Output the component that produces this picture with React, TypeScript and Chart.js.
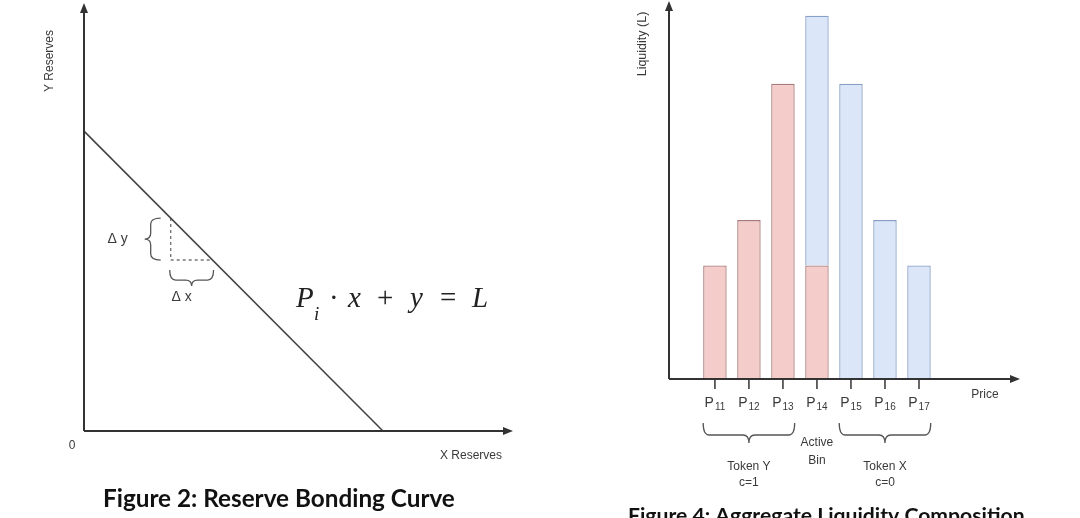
import React, { useEffect, useRef } from "react";
import { Chart, registerables } from "chart.js";

Chart.register(...registerables);

// ---------- Figure 2 data ----------
const reserveX = [0, 10];
const reserveY = [10, 0];
const deltaX = [2.9, 2.9, 4.3];
const deltaY = [7.1, 5.7, 5.7];

// ---------- Figure 4 data ----------
const bins = [11, 12, 13, 14, 15, 16, 17];
const tickLabels = ["P11", "P12", "P13", "P14", "P15", "P16", "P17"];
const tokenYValues = [5, 7, 13, 5, null, null, null];
const tokenXValues = [null, null, null, 11, 13, 7, 5];

const AXIS = "#333333";
const TEXT = "#3a3a3a";
const SANS = "'Liberation Sans', Arial, sans-serif";

function arrowHead(ctx: CanvasRenderingContext2D, x: number, y: number, dir: "up" | "right") {
  ctx.beginPath();
  if (dir === "up") {
    ctx.moveTo(x, y);
    ctx.lineTo(x - 4, y + 10);
    ctx.lineTo(x + 4, y + 10);
  } else {
    ctx.moveTo(x, y);
    ctx.lineTo(x - 10, y - 4);
    ctx.lineTo(x - 10, y + 4);
  }
  ctx.closePath();
  ctx.fill();
}

// horizontal brace, tips at y, pointing down
function hBrace(ctx: CanvasRenderingContext2D, x1: number, x2: number, y: number, arm: number, tip: number) {
  const m = (x1 + x2) / 2;
  const r = Math.min(arm, 6);
  const yb = y + arm;
  ctx.beginPath();
  ctx.moveTo(x1, y);
  ctx.quadraticCurveTo(x1, yb, x1 + r, yb);
  ctx.lineTo(m - r, yb);
  ctx.quadraticCurveTo(m, yb, m, yb + tip);
  ctx.moveTo(m, yb + tip);
  ctx.quadraticCurveTo(m, yb, m + r, yb);
  ctx.lineTo(x2 - r, yb);
  ctx.quadraticCurveTo(x2, yb, x2, y);
  ctx.stroke();
}

// vertical brace, tips at x, pointing left
function vBrace(ctx: CanvasRenderingContext2D, y1: number, y2: number, x: number, arm: number, tip: number) {
  const m = (y1 + y2) / 2;
  const r = Math.min(arm, 6);
  const xb = x - arm;
  ctx.beginPath();
  ctx.moveTo(x, y1);
  ctx.quadraticCurveTo(xb, y1, xb, y1 + r);
  ctx.lineTo(xb, m - r);
  ctx.quadraticCurveTo(xb, m, xb - tip, m);
  ctx.moveTo(xb - tip, m);
  ctx.quadraticCurveTo(xb, m, xb, m + r);
  ctx.lineTo(xb, y2 - r);
  ctx.quadraticCurveTo(xb, y2, x, y2);
  ctx.stroke();
}

function fitText(ctx: CanvasRenderingContext2D, text: string, family: string, weight: string, width: number) {
  ctx.font = `${weight} 20px ${family}`;
  const w = ctx.measureText(text).width;
  const size = (20 * width) / w;
  ctx.font = `${weight} ${size}px ${family}`;
}

const leftPlugin = {
  id: "leftDecor",
  afterDatasetsDraw(chart: any) {
    const { ctx, chartArea } = chart;
    const { left, right, top, bottom } = chartArea;
    const xs = chart.scales.x;
    const ys = chart.scales.y;
    ctx.save();
    ctx.strokeStyle = AXIS;
    ctx.fillStyle = AXIS;
    ctx.lineWidth = 2;
    ctx.beginPath();
    ctx.moveTo(left, bottom);
    ctx.lineTo(left, top + 6);
    ctx.moveTo(left, bottom);
    ctx.lineTo(right - 6, bottom);
    ctx.stroke();
    arrowHead(ctx, left, top, "up");
    arrowHead(ctx, right, bottom, "right");

    // braces around delta triangle
    const px = xs.getPixelForValue(deltaX[0]);
    const pyTop = ys.getPixelForValue(deltaY[0]);
    const pyBot = ys.getPixelForValue(deltaY[1]);
    const px2 = xs.getPixelForValue(deltaX[2]);
    ctx.strokeStyle = "#555";
    ctx.lineWidth = 1.3;
    vBrace(ctx, pyTop, pyBot, px - 10, 10, 6);
    hBrace(ctx, px - 1, px2 + 1, pyBot + 10, 10, 6);

    ctx.fillStyle = TEXT;
    ctx.font = `14px ${SANS}`;
    ctx.textAlign = "center";
    ctx.textBaseline = "middle";
    ctx.fillText("\u0394 y", px - 53, (pyTop + pyBot) / 2);
    ctx.fillText("\u0394 x", (px + px2) / 2 - 10, pyBot + 37);

    // axis labels
    ctx.font = `12px ${SANS}`;
    ctx.fillText("0", left - 12, bottom + 15);
    ctx.fillText("X Reserves", right - 42, bottom + 25);
    ctx.save();
    ctx.translate(50, 61);
    ctx.rotate(-Math.PI / 2);
    ctx.fillText("Y Reserves", 0, 0);
    ctx.restore();

    // equation
    ctx.fillStyle = "#222";
    ctx.textAlign = "left";
    ctx.textBaseline = "alphabetic";
    const serif = "'Liberation Serif', 'DejaVu Serif', serif";
    ctx.font = `italic 29px ${serif}`;
    ctx.fillText("P", 296, 307);
    ctx.font = `italic 19px ${serif}`;
    ctx.fillText("i", 314, 320);
    ctx.font = `29px ${serif}`;
    ctx.fillText("\u00b7", 329, 307);
    ctx.font = `italic 29px ${serif}`;
    ctx.fillText("x", 348, 307);
    ctx.font = `29px ${serif}`;
    ctx.fillText("+", 377, 307);
    ctx.font = `italic 29px ${serif}`;
    ctx.fillText("y", 410, 307);
    ctx.font = `29px ${serif}`;
    ctx.fillText("=", 440, 307);
    ctx.font = `italic 29px ${serif}`;
    ctx.fillText("L", 472, 307);

    // caption
    ctx.fillStyle = "#111";
    ctx.textAlign = "left";
    const cap = "Figure 2: Reserve Bonding Curve";
    fitText(ctx, cap, "Lato, 'Open Sans', sans-serif", "bold", 352);
    ctx.fillText(cap, 103, 507);
    ctx.restore();
  },
};

const rightPlugin = {
  id: "rightDecor",
  afterDatasetsDraw(chart: any) {
    const { ctx, chartArea } = chart;
    const { left, right, top, bottom } = chartArea;
    const xs = chart.scales.x;
    ctx.save();
    ctx.strokeStyle = AXIS;
    ctx.fillStyle = AXIS;
    ctx.lineWidth = 2;
    ctx.beginPath();
    ctx.moveTo(left, bottom);
    ctx.lineTo(left, top + 6);
    ctx.moveTo(left, bottom);
    ctx.lineTo(right - 6, bottom);
    ctx.stroke();
    arrowHead(ctx, left, top, "up");
    arrowHead(ctx, right, bottom, "right");

    // ticks + labels
    ctx.lineWidth = 1.5;
    ctx.fillStyle = TEXT;
    bins.forEach((b, i) => {
      const x = xs.getPixelForValue(b);
      ctx.beginPath();
      ctx.moveTo(x, bottom);
      ctx.lineTo(x, bottom + 10);
      ctx.stroke();
      const main = tickLabels[i].slice(0, 1);
      const sub = tickLabels[i].slice(1);
      ctx.font = `14px ${SANS}`;
      const wm = ctx.measureText(main).width;
      ctx.font = `10px ${SANS}`;
      const ws = ctx.measureText(sub).width;
      const x0 = x - (wm + ws + 1) / 2;
      ctx.textAlign = "left";
      ctx.textBaseline = "alphabetic";
      ctx.font = `14px ${SANS}`;
      ctx.fillText(main, x0, bottom + 28);
      ctx.font = `10px ${SANS}`;
      ctx.fillText(sub, x0 + wm + 1, bottom + 31);
    });

    // braces from bar elements
    const metaY = chart.getDatasetMeta(0);
    const metaX = chart.getDatasetMeta(1);
    const barsY = metaY.data;
    const barsX = metaX.data;
    const half = (el: any) => el.width / 2;
    const yL = barsY[0].x - half(barsY[0]);
    const yR = barsY[2].x + half(barsY[2]);
    const xL = barsX[1].x - half(barsX[1]);
    const xR = barsX[barsX.length - 1].x + half(barsX[barsX.length - 1]);
    ctx.strokeStyle = "#555";
    ctx.lineWidth = 1.3;
    hBrace(ctx, yL, yR, bottom + 44, 12, 8);
    hBrace(ctx, xL, xR, bottom + 44, 12, 8);

    ctx.fillStyle = TEXT;
    ctx.font = `12px ${SANS}`;
    ctx.textAlign = "center";
    ctx.textBaseline = "middle";
    const activeX = barsY[3].x;
    ctx.fillText("Active", activeX, bottom + 64);
    ctx.fillText("Bin", activeX, bottom + 82);
    ctx.fillText("Token Y", (yL + yR) / 2, bottom + 88);
    ctx.fillText("c=1", (yL + yR) / 2, bottom + 104);
    ctx.fillText("Token X", (xL + xR) / 2, bottom + 88);
    ctx.fillText("c=0", (xL + xR) / 2, bottom + 104);
    ctx.fillText("Price", right - 35, bottom + 16);

    ctx.font = `12.5px ${SANS}`;
    ctx.save();
    ctx.translate(left - 26, 44);
    ctx.rotate(-Math.PI / 2);
    ctx.fillText("Liquidity (L)", 0, 0);
    ctx.restore();

    // caption (cut off at bottom)
    ctx.fillStyle = "#111";
    ctx.textAlign = "left";
    ctx.textBaseline = "alphabetic";
    const cap = "Figure 4: Aggregate Liquidity Composition";
    fitText(ctx, cap, "Lato, 'Open Sans', sans-serif", "bold", 397);
    ctx.fillText(cap, 628 - 540, 523);
    ctx.restore();
  },
};

function LeftChart() {
  const ref = useRef<HTMLCanvasElement>(null);
  useEffect(() => {
    const chart = new Chart(ref.current!, {
      type: "line",
      data: {
        datasets: [
          {
            data: reserveX.map((x, i) => ({ x, y: reserveY[i] })),
            borderColor: "#444444",
            borderWidth: 1.6,
            pointRadius: 0,
            fill: false,
            clip: false as any,
          },
          {
            data: deltaX.map((x, i) => ({ x, y: deltaY[i] })),
            borderColor: "#777777",
            borderWidth: 1.4,
            borderDash: [3, 3],
            pointRadius: 0,
            fill: false,
          },
        ],
      },
      options: {
        responsive: false,
        animation: false,
        devicePixelRatio: 1,
        layout: { padding: { left: 84, right: 27, top: 3, bottom: 87 } },
        scales: {
          x: { type: "linear", min: 0, max: 14.35, display: false },
          y: { type: "linear", min: 0, max: 14.27, display: false },
        },
        plugins: { legend: { display: false }, tooltip: { enabled: false } },
      },
      plugins: [leftPlugin],
    });
    return () => chart.destroy();
  }, []);
  return <canvas ref={ref} width={540} height={518} style={{ position: "absolute", left: 0, top: 0 }} />;
}

function RightChart() {
  const ref = useRef<HTMLCanvasElement>(null);
  useEffect(() => {
    const toPoints = (vals: (number | null)[]) =>
      bins.map((x, i) => ({ x, y: vals[i] })).filter((p) => p.y !== null);
    const chart = new Chart(ref.current!, {
      type: "bar",
      data: {
        datasets: [
          {
            label: "Token Y",
            data: toPoints(tokenYValues) as any,
            backgroundColor: "#f4cdcb",
            borderColor: "#a97a78",
            borderWidth: 1.3,
            barPercentage: 0.69,
            categoryPercentage: 1,
          },
          {
            label: "Token X",
            data: toPoints(tokenXValues) as any,
            backgroundColor: "#dbe7f9",
            borderColor: "#879ec6",
            borderWidth: 1.3,
            barPercentage: 0.69,
            categoryPercentage: 1,
          },
        ],
      },
      options: {
        responsive: false,
        animation: false,
        devicePixelRatio: 1,
        layout: { padding: { left: 129, right: 60, top: 1, bottom: 139 } },
        scales: {
          x: { type: "linear", min: 9.65, max: 19.97, stacked: true, offset: false, display: false },
          y: { type: "linear", min: 0, max: 16.65, stacked: true, display: false },
        },
        plugins: { legend: { display: false }, tooltip: { enabled: false } },
      },
      plugins: [rightPlugin],
    });
    return () => chart.destroy();
  }, []);
  return <canvas ref={ref} width={540} height={518} style={{ position: "absolute", left: 540, top: 0 }} />;
}

export default function App() {
  useEffect(() => {
    document.body.style.margin = "0";
    document.body.style.background = "#ffffff";
  }, []);
  return (
    <div style={{ position: "relative", width: 1080, height: 518, overflow: "hidden", background: "#fff" }}>
      <LeftChart />
      <RightChart />
    </div>
  );
}
